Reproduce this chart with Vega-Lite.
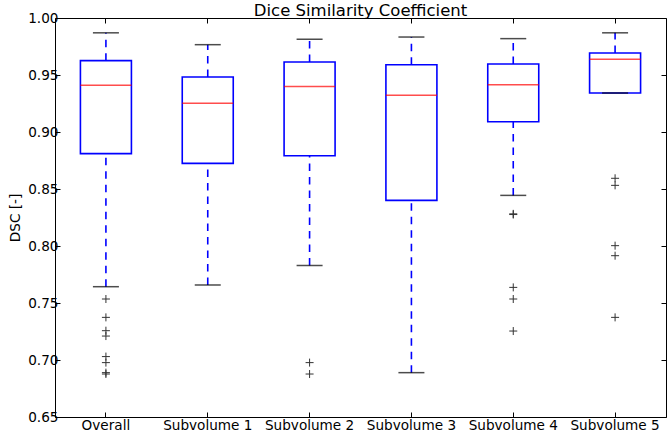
{
  "$schema": "https://vega.github.io/schema/vega-lite/v6.json",
  "width": 611,
  "height": 399,
  "autosize": {"type": "none"},
  "padding": {"left": 55, "top": 18, "right": 1, "bottom": 15},
  "background": "white",
  "title": {"text": "Dice Similarity Coefficient", "fontSize": 16.5, "fontWeight": "normal", "font": "DejaVu Sans", "color": "black", "offset": -8},
  "config": {
    "view": {"stroke": "black", "strokeWidth": 1},
    "font": "DejaVu Sans",
    "axis": {"grid": false, "domain": false, "tickColor": "black", "labelColor": "black", "labelFont": "DejaVu Sans", "titleFont": "DejaVu Sans", "titleColor": "black", "tickSize": -5, "labelFontSize": 13.6}
  },
  "datasets": {
    "summary": [
      {"group": "Overall", "lower": 0.7643, "q1": 0.881, "median": 0.941, "q3": 0.9626, "upper": 0.987},
      {"group": "Subvolume 1", "lower": 0.7658, "q1": 0.8725, "median": 0.9252, "q3": 0.9482, "upper": 0.9766},
      {"group": "Subvolume 2", "lower": 0.7828, "q1": 0.8792, "median": 0.940, "q3": 0.9614, "upper": 0.9813},
      {"group": "Subvolume 3", "lower": 0.6889, "q1": 0.840, "median": 0.9322, "q3": 0.959, "upper": 0.9833},
      {"group": "Subvolume 4", "lower": 0.8444, "q1": 0.909, "median": 0.9415, "q3": 0.9596, "upper": 0.9819},
      {"group": "Subvolume 5", "lower": 0.9342, "q1": 0.9342, "median": 0.9638, "q3": 0.9693, "upper": 0.987}
    ],
    "outliers": [
      {"group": "Overall", "value": 0.7535},
      {"group": "Overall", "value": 0.7374},
      {"group": "Overall", "value": 0.7257},
      {"group": "Overall", "value": 0.721},
      {"group": "Overall", "value": 0.703},
      {"group": "Overall", "value": 0.6977},
      {"group": "Overall", "value": 0.6889},
      {"group": "Overall", "value": 0.6877},
      {"group": "Subvolume 2", "value": 0.6977},
      {"group": "Subvolume 2", "value": 0.6877},
      {"group": "Subvolume 4", "value": 0.8282},
      {"group": "Subvolume 4", "value": 0.8276},
      {"group": "Subvolume 4", "value": 0.7637},
      {"group": "Subvolume 4", "value": 0.7535},
      {"group": "Subvolume 4", "value": 0.7254},
      {"group": "Subvolume 5", "value": 0.8594},
      {"group": "Subvolume 5", "value": 0.8532},
      {"group": "Subvolume 5", "value": 0.8003},
      {"group": "Subvolume 5", "value": 0.7915},
      {"group": "Subvolume 5", "value": 0.7374}
    ]
  },
  "resolve": {"axis": {"x": "independent", "y": "independent"}},
  "layer": [
    {
      "data": {"name": "summary"},
      "mark": {"type": "rule", "color": "#0000ff", "strokeWidth": 1.6, "strokeDash": [7.5, 6]},
      "encoding": {
        "x": {"field": "group", "type": "nominal", "sort": null,
              "scale": {"paddingInner": 0, "paddingOuter": 0},
              "axis": {"orient": "bottom", "title": null, "labelAngle": 0, "labelPadding": 6}},
        "y": {"field": "lower", "type": "quantitative",
              "scale": {"domain": [0.65, 1.0], "nice": false, "zero": false},
              "axis": {"orient": "left", "title": "DSC [-]", "titleFontSize": 13.6, "titleFontWeight": "normal", "values": [0.65, 0.7, 0.75, 0.8, 0.85, 0.9, 0.95, 1.0], "format": ".2f", "labelPadding": 2, "titlePadding": 5}},
        "y2": {"field": "q1"}
      }
    },
    {
      "data": {"name": "summary"},
      "mark": {"type": "rule", "color": "#0000ff", "strokeWidth": 1.6, "strokeDash": [7.5, 6]},
      "encoding": {
        "x": {"field": "group", "type": "nominal", "sort": null,
              "axis": {"orient": "top", "title": null, "labels": false}},
        "y": {"field": "q3", "type": "quantitative",
              "axis": {"orient": "right", "title": null, "labels": false, "values": [0.65, 0.7, 0.75, 0.8, 0.85, 0.9, 0.95, 1.0]}},
        "y2": {"field": "upper"}
      }
    },
    {
      "data": {"name": "summary"},
      "mark": {"type": "bar", "fill": "white", "stroke": "#0000ff", "strokeWidth": 1.6, "width": 51},
      "encoding": {
        "x": {"field": "group", "type": "nominal", "sort": null, "axis": null},
        "y": {"field": "q1", "type": "quantitative", "axis": null},
        "y2": {"field": "q3"}
      }
    },
    {
      "data": {"name": "summary"},
      "mark": {"type": "tick", "color": "black", "size": 26, "thickness": 1.5},
      "encoding": {
        "x": {"field": "group", "type": "nominal", "sort": null, "axis": null},
        "y": {"field": "lower", "type": "quantitative", "axis": null}
      }
    },
    {
      "data": {"name": "summary"},
      "mark": {"type": "tick", "color": "black", "size": 26, "thickness": 1.5},
      "encoding": {
        "x": {"field": "group", "type": "nominal", "sort": null, "axis": null},
        "y": {"field": "upper", "type": "quantitative", "axis": null}
      }
    },
    {
      "data": {"name": "summary"},
      "mark": {"type": "tick", "color": "#ff0000", "size": 51, "thickness": 1.5},
      "encoding": {
        "x": {"field": "group", "type": "nominal", "sort": null, "axis": null},
        "y": {"field": "median", "type": "quantitative", "axis": null}
      }
    },
    {
      "data": {"name": "outliers"},
      "mark": {"type": "point", "shape": "M-1,0L1,0M0,-1L0,1", "filled": false, "stroke": "#333333", "strokeWidth": 1, "size": 64, "opacity": 1},
      "encoding": {
        "x": {"field": "group", "type": "nominal", "sort": null, "axis": null},
        "y": {"field": "value", "type": "quantitative", "axis": null}
      }
    }
  ]
}
